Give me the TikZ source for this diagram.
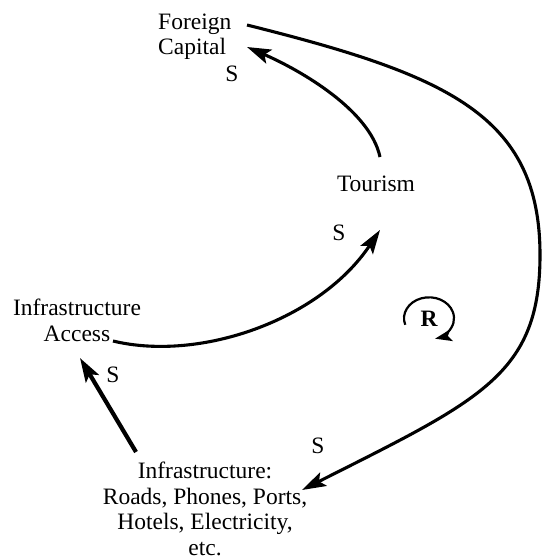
\documentclass[tikz,border=0pt]{standalone}
\usepackage{fontspec}
\setmainfont{Liberation Serif}
\usetikzlibrary{arrows.meta}
\begin{document}
\begin{tikzpicture}[x=1pt,y=-1pt,
  lbl/.style={inner sep=0pt, font=\fontsize{23.5}{25.5}\selectfont},
  sign/.style={lbl},
  link/.style={line width=3.1pt, -{Stealth[length=24pt,width=15pt,inset=5pt]}},
  heavylink/.style={link, line width=4.2pt},
  looparrow/.style={line width=2.2pt, -{Stealth[length=17pt,width=12pt,inset=4pt]}}
]
\useasboundingbox (0,0) rectangle (543,559);

% variables (multi-line nodes are placed by the baseline of their last line)
\node[lbl, anchor=base west, align=left] (fc) at (158,55) {Foreign\\Capital};
\node[lbl, anchor=base] (tour) at (376,191) {Tourism};
\node[lbl, anchor=base, align=center] (ia) at (77,341) {Infrastructure\\Access};
\node[lbl, anchor=base, align=center] (inf) at (205,555)
  {Infrastructure:\\Roads, Phones, Ports,\\Hotels, Electricity,\\etc.};

% polarity signs
\node[sign, anchor=base] (s1) at (232,82) {S};
\node[sign, anchor=base] (s2) at (339,240) {S};
\node[sign, anchor=base] (s3) at (113,382) {S};
\node[sign, anchor=base] (s4) at (318,453) {S};

% loop marker
\node[lbl, anchor=base, font=\fontsize{23.5}{25.5}\selectfont\bfseries] (loop) at (429,326) {R};

% connector ends
\coordinate (fc-out) at (247,25);
\coordinate (fc-in) at (247,47);
\coordinate (tour-out) at (380,157);
\coordinate (tour-in) at (380,230);
\coordinate (ia-out) at (113,341);
\coordinate (ia-in) at (80,358);
\coordinate (inf-out) at (136,452);
\coordinate (inf-in) at (302,490);

% causal links
\draw[link] (tour-out) .. controls (370,110) and (300,70) .. (fc-in);
\draw[link] (fc-out) .. controls (447,75) and (540,115) .. (540,255)
  .. controls (540,375) and (480,400) .. (inf-in);
\draw[link] (ia-out) .. controls (200,362) and (320,320) .. (tour-in);
\draw[heavylink] (inf-out) -- (ia-in);

% reinforcing loop arrow
\draw[looparrow] ([shift={(198:25pt and 21pt)}]loop.center)
  arc[start angle=198, end angle=-76, x radius=25pt, y radius=21pt];
\end{tikzpicture}
\end{document}
